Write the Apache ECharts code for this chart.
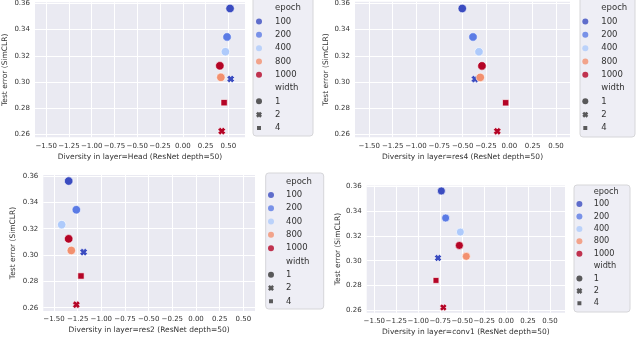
<!DOCTYPE html>
<html>
<head>
<meta charset="utf-8">
<script src="https://cdn.jsdelivr.net/npm/echarts@6/dist/echarts.min.js"></script>
<style>
  html, body { margin: 0; padding: 0; background: #fff; }
  #main { width: 640px; height: 337px; }
</style>
</head>
<body>
<div id="main"></div>
<script>
// one entry per run: epoch, width, test error, diversity per layer
const epochs = [100, 200, 400, 800, 1000, 100, 1000, 1000];
const widths = [1, 1, 1, 1, 1, 2, 4, 2];
const testError = [0.3562, 0.3344, 0.3231, 0.3035, 0.3123, 0.3022, 0.2841, 0.2623];
const divHead = [0.518, 0.485, 0.467, 0.417, 0.406, 0.525, 0.453, 0.427];
const divRes4 = [-0.504, -0.389, -0.325, -0.311, -0.293, -0.368, -0.039, -0.129];
const divRes2 = [-1.345, -1.264, -1.419, -1.317, -1.345, -1.187, -1.215, -1.264];
const divConv1 = [-0.737, -0.688, -0.521, -0.453, -0.532, -0.775, -0.798, -0.715];

const layers = ['Head', 'res4', 'res2', 'conv1'];
const xTicks = [-1.5, -1.25, -1.0, -0.75, -0.5, -0.25, 0, 0.25, 0.5];
const yTicks = [0.26, 0.28, 0.30, 0.32, 0.34, 0.36];
const epochLevels = [100, 200, 400, 800, 1000];
const widthLevels = [1, 2, 4];

const epochColors = { 100: '#3b4cc0', 200: '#5b7be5', 400: '#aecafb', 800: '#f2906f', 1000: '#b40426' };
const xPath = 'path://M3,0L5,2L7,0L10,3L8,5L10,7L7,10L5,8L3,10L0,7L2,5L0,3Z';
const sqPath = 'path://M0,0L10,0L10,10L0,10Z';
const widthSymbols = { 1: 'circle', 2: xPath, 4: sqPath };
// legend square drawn a bit smaller (invisible corner points keep the box 10x10)
const legendSymbols = { 1: 'circle', 2: xPath, 4: 'path://M0,0L0.01,0M1.7,1.7L8.3,1.7L8.3,8.3L1.7,8.3ZM10,10L9.99,10' };

const font = 'DejaVu Sans';
const textColor = '#333';

const panels = [
  { div: divHead, left: 33.5, top: 0.5, right: 245, bottom: 137.3, xMin: -1.622, xMax: 0.682, yMin: 0.2576, yMax: 0.3609, yGap: 26, xGap: 16,
    leg: { left: 256, top: 1.6, iw: 22, lh: 13.3, fs: 8.5 }, box: [253, -3, 60, 139], size: 8.5 },
  { div: divRes4, left: 355, top: 0.5, right: 570, bottom: 137.3, xMin: -1.653, xMax: 0.65, yMin: 0.2577, yMax: 0.3614, yGap: 23, xGap: 16,
    leg: { left: 582.3, top: 1.6, iw: 22, lh: 13.3, fs: 8.5 }, box: [580, -3, 55, 140], size: 8.5 },
  { div: divRes2, left: 43.3, top: 175, right: 255, bottom: 311, xMin: -1.613, xMax: 0.623, yMin: 0.2575, yMax: 0.3608, yGap: 26, xGap: 15,
    leg: { left: 268, top: 175, iw: 20, lh: 13.3, fs: 8.5 }, box: [265.7, 173, 58, 136], size: 8.5 },
  { div: divConv1, left: 366.7, top: 185.5, right: 565, bottom: 312.7, xMin: -1.587, xMax: 0.671, yMin: 0.2581, yMax: 0.3606, yGap: 25, xGap: 15,
    leg: { left: 576.4, top: 185.5, iw: 18.6, lh: 12.4, fs: 8.2 }, box: [574, 185, 56, 127], size: 8 }
];

const fmtX = v => (v < 0 ? '\u2212' : '') + Math.abs(v).toFixed(2);

const grid = [], xAxis = [], yAxis = [], series = [], legend = [], graphic = [];

panels.forEach((p, i) => {
  grid.push({
    left: p.left, top: p.top, width: p.right - p.left, height: p.bottom - p.top,
    show: true, backgroundColor: '#eaeaf2', borderWidth: 0
  });
  xAxis.push({
    type: 'value', gridIndex: i, min: p.xMin, max: p.xMax,
    name: 'Diversity in layer=' + layers[i] + ' (ResNet depth=50)',
    nameLocation: 'middle', nameGap: p.xGap,
    nameTextStyle: { fontFamily: font, fontSize: 7.5, color: textColor },
    axisLine: { show: false },
    axisTick: { show: false, customValues: xTicks },
    axisLabel: { customValues: xTicks, formatter: fmtX, fontFamily: font, fontSize: 7, color: textColor, margin: 5 },
    splitLine: { show: true, lineStyle: { color: '#fff', width: 1 } }
  });
  yAxis.push({
    type: 'value', gridIndex: i, min: p.yMin, max: p.yMax,
    name: 'Test error (SimCLR)',
    nameLocation: 'middle', nameGap: p.yGap,
    nameTextStyle: { fontFamily: font, fontSize: 7.5, color: textColor },
    axisLine: { show: false },
    axisTick: { show: false, customValues: yTicks },
    axisLabel: { customValues: yTicks, formatter: v => v.toFixed(2), fontFamily: font, fontSize: 7, color: textColor, margin: 5 },
    splitLine: { show: true, lineStyle: { color: '#fff', width: 1 } }
  });

  // width 2/4 points first so the circles sit on top
  const order = epochs.map((e, k) => k).sort((a, b) => (widths[a] === 1) - (widths[b] === 1));
  series.push({
    type: 'scatter', xAxisIndex: i, yAxisIndex: i,
    data: order.map(k => ({
      value: [p.div[k], testError[k]],
      symbol: widthSymbols[widths[k]],
      symbolSize: widths[k] === 1 ? p.size : (widths[k] === 4 ? p.size - 2.2 : p.size - 0.8),
      itemStyle: { color: epochColors[epochs[k]] }
    })),
    itemStyle: { borderColor: '#fff', borderWidth: 0.6, opacity: 1 },
    emphasis: { disabled: true },
    z: 3
  });

  graphic.push({
    type: 'rect', shape: { x: p.box[0], y: p.box[1], width: p.box[2], height: p.box[3], r: 3 },
    style: { fill: '#eeeef5', stroke: '#d6d6d9', lineWidth: 1 }, z: 0, silent: true
  });

  legend.push({
    orient: 'vertical', left: p.leg.left, top: p.leg.top, padding: 0,
    itemGap: 0, itemWidth: p.leg.iw, itemHeight: 6,
    selectedMode: false,
    textStyle: { fontFamily: font, fontSize: p.leg.fs, lineHeight: p.leg.lh, color: textColor },
    data: [{ name: 'epoch', icon: 'circle', itemStyle: { color: 'transparent' } }]
      .concat(epochLevels.map(e => ({ name: String(e), icon: 'circle' })))
      .concat([{ name: 'width', icon: 'circle', itemStyle: { color: 'transparent' } }])
      .concat(widthLevels.map(w => ({ name: String(w) + ' ', icon: legendSymbols[w] })))
  });
});

// empty series so the legends have names and colours to show
series.push({ type: 'scatter', name: 'epoch', data: [], itemStyle: { color: 'transparent' } });
epochLevels.forEach(e => series.push({ type: 'scatter', name: String(e), data: [], symbol: 'circle', itemStyle: { color: epochColors[e] } }));
series.push({ type: 'scatter', name: 'width', data: [], itemStyle: { color: 'transparent' } });
widthLevels.forEach(w => series.push({ type: 'scatter', name: String(w) + ' ', data: [], symbol: widthSymbols[w], itemStyle: { color: '#333' } }));

const chart = echarts.init(document.getElementById('main'), null, { renderer: 'canvas' });
chart.setOption({
  animation: false,
  backgroundColor: '#fff',
  grid, xAxis, yAxis, series, legend, graphic
});
</script>
</body>
</html>
